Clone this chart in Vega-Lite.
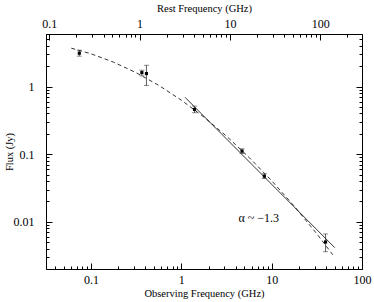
{
  "$schema": "https://vega.github.io/schema/vega-lite/v6.json",
  "width": 316,
  "height": 235,
  "autosize": "none",
  "padding": {"left": 46, "top": 34, "right": 12, "bottom": 33},
  "config": {
    "font": "Liberation Serif",
    "view": {"stroke": "black", "strokeWidth": 1},
    "axis": {
      "grid": false,
      "domain": false,
      "ticks": true,
      "tickColor": "black",
      "tickWidth": 1,
      "labelColor": "black",
      "titleColor": "black",
      "labelFontSize": 12,
      "titleFontSize": 10.5,
      "titleFontWeight": "normal",
      "labelFont": "Liberation Serif",
      "titleFont": "Liberation Serif",
      "labelFlush": false,
      "labelOverlap": false
    }
  },
  "datasets": {
    "obs": [
      {"freq": 0.0743, "flux": 3.12, "lo": 2.82, "hi": 3.46},
      {"freq": 0.366, "flux": 1.61, "lo": 1.44, "hi": 1.75},
      {"freq": 0.4115, "flux": 1.56, "lo": 1.035, "hi": 2.07},
      {"freq": 1.4, "flux": 0.46, "lo": 0.41, "hi": 0.515},
      {"freq": 4.7, "flux": 0.111, "lo": 0.102, "hi": 0.12},
      {"freq": 8.3, "flux": 0.0472, "lo": 0.0436, "hi": 0.0513},
      {"freq": 39.5, "flux": 0.00502, "lo": 0.0036, "hi": 0.0066}
    ],
    "curve": [
      {"freq": 0.0606, "flux": 3.70},
      {"freq": 0.1, "flux": 3.06},
      {"freq": 0.1778, "flux": 2.30},
      {"freq": 0.3162, "flux": 1.607},
      {"freq": 0.5623, "flux": 1.044},
      {"freq": 1.0, "flux": 0.6305},
      {"freq": 1.778, "flux": 0.354},
      {"freq": 3.162, "flux": 0.1849},
      {"freq": 5.623, "flux": 0.0897},
      {"freq": 10, "flux": 0.0405},
      {"freq": 17.78, "flux": 0.0170},
      {"freq": 31.62, "flux": 0.00663},
      {"freq": 47.5, "flux": 0.00325}
    ],
    "fit": [
      {"freq": 1.10, "flux": 0.694},
      {"freq": 50, "flux": 0.00413}
    ],
    "dummyObs": [
      {"freq": 1, "flux": 1}
    ],
    "dummyRest": [
      {"rfreq": 1, "flux": 1}
    ]
  },
  "layer": [
    {
      "layer": [
        {
          "data": {"name": "curve"},
          "mark": {"type": "line", "strokeDash": [4, 3], "strokeWidth": 0.8, "color": "black"},
          "encoding": {
            "x": {
              "field": "freq", "type": "quantitative",
              "scale": {"type": "log", "domain": [0.0318, 100], "nice": false},
              "axis": {
                "orient": "bottom",
                "title": "Observing Frequency (GHz)",
                "values": [0.1, 1, 10, 100],
                "offset": -6,
                "tickSize": 6,
                "labelExpr": "format(datum.value, '~g')",
                "labelPadding": 5,
                "titleY": 25
              }
            },
            "y": {
              "field": "flux", "type": "quantitative",
              "scale": {"type": "log", "domain": [0.002, 6], "nice": false},
              "axis": {
                "orient": "left",
                "title": "Flux (Jy)",
                "values": [0.01, 0.1, 1],
                "offset": -6,
                "tickSize": 6,
                "labelExpr": "format(datum.value, '~g')",
                "labelPadding": 12,
                "titleX": -38
              }
            }
          }
        },
        {
          "data": {"name": "fit"},
          "mark": {"type": "line", "strokeWidth": 0.8, "color": "black"},
          "encoding": {
            "x": {"field": "freq", "type": "quantitative"},
            "y": {"field": "flux", "type": "quantitative"}
          }
        },
        {
          "data": {"name": "obs"},
          "mark": {"type": "rule", "strokeWidth": 0.8, "color": "#333"},
          "encoding": {
            "x": {"field": "freq", "type": "quantitative"},
            "y": {"field": "lo", "type": "quantitative"},
            "y2": {"field": "hi"}
          }
        },
        {
          "data": {"name": "obs"},
          "mark": {"type": "tick", "orient": "horizontal", "size": 5, "thickness": 0.8, "color": "#333"},
          "encoding": {
            "x": {"field": "freq", "type": "quantitative"},
            "y": {"field": "lo", "type": "quantitative"}
          }
        },
        {
          "data": {"name": "obs"},
          "mark": {"type": "tick", "orient": "horizontal", "size": 5, "thickness": 0.8, "color": "#333"},
          "encoding": {
            "x": {"field": "freq", "type": "quantitative"},
            "y": {"field": "hi", "type": "quantitative"}
          }
        },
        {
          "data": {"name": "obs"},
          "mark": {"type": "point", "filled": true, "shape": "square", "size": 10, "color": "black", "opacity": 1},
          "encoding": {
            "x": {"field": "freq", "type": "quantitative"},
            "y": {"field": "flux", "type": "quantitative"}
          }
        },
        {
          "data": {"values": [{}]},
          "mark": {"type": "text", "fontSize": 12, "font": "Liberation Serif", "color": "black"},
          "encoding": {
            "x": {"datum": 7.2},
            "y": {"datum": 0.0115},
            "text": {"value": "α ~ −1.3"}
          }
        }
      ]
    },
    {
      "data": {"name": "dummyRest"},
      "mark": {"type": "point", "opacity": 0},
      "encoding": {
        "x": {
          "field": "rfreq", "type": "quantitative",
          "scale": {"type": "log", "domain": [0.0922, 290], "nice": false},
          "axis": {
            "orient": "top",
            "title": "Rest Frequency (GHz)",
            "values": [0.1, 1, 10, 100],
            "offset": -6,
            "tickSize": 6,
            "labelAlign": "center",
            "labelFlush": false,
            "labelExpr": "format(datum.value, '~g')",
            "labelPadding": 4,
            "titleY": -27
          }
        },
        "y": {
          "field": "flux", "type": "quantitative",
          "axis": {
            "orient": "right",
            "title": null,
            "values": [0.01, 0.1, 1],
            "offset": -6,
            "tickSize": 6,
            "labels": false
          }
        }
      }
    },
    {
      "data": {"name": "dummyObs"},
      "mark": {"type": "point", "opacity": 0},
      "encoding": {
        "x": {
          "field": "freq", "type": "quantitative",
          "scale": {"type": "log", "domain": [0.0318, 100], "nice": false},
          "axis": {
            "orient": "bottom",
            "title": null,
            "labels": false,
            "values": [0.04,0.05,0.06,0.07,0.08,0.09,0.2,0.3,0.4,0.5,0.6,0.7,0.8,0.9,2,3,4,5,6,7,8,9,20,30,40,50,60,70,80,90],
            "offset": -3,
            "tickSize": 3
          }
        },
        "y": {
          "field": "flux", "type": "quantitative",
          "axis": {
            "orient": "left",
            "title": null,
            "labels": false,
            "values": [0.002,0.003,0.004,0.005,0.006,0.007,0.008,0.009,0.02,0.03,0.04,0.05,0.06,0.07,0.08,0.09,0.2,0.3,0.4,0.5,0.6,0.7,0.8,0.9,2,3,4,5,6],
            "offset": -3,
            "tickSize": 3
          }
        }
      }
    },
    {
      "data": {"name": "dummyRest"},
      "mark": {"type": "point", "opacity": 0},
      "encoding": {
        "x": {
          "field": "rfreq", "type": "quantitative",
          "scale": {"type": "log", "domain": [0.0922, 290], "nice": false},
          "axis": {
            "orient": "top",
            "title": null,
            "labels": false,
            "values": [0.2,0.3,0.4,0.5,0.6,0.7,0.8,0.9,2,3,4,5,6,7,8,9,20,30,40,50,60,70,80,90,200],
            "offset": -3,
            "tickSize": 3
          }
        },
        "y": {
          "field": "flux", "type": "quantitative",
          "axis": {
            "orient": "right",
            "title": null,
            "labels": false,
            "values": [0.002,0.003,0.004,0.005,0.006,0.007,0.008,0.009,0.02,0.03,0.04,0.05,0.06,0.07,0.08,0.09,0.2,0.3,0.4,0.5,0.6,0.7,0.8,0.9,2,3,4,5,6],
            "offset": -3,
            "tickSize": 3
          }
        }
      }
    }
  ],
  "resolve": {"scale": {"x": "independent"}, "axis": {"x": "independent", "y": "independent"}}
}
